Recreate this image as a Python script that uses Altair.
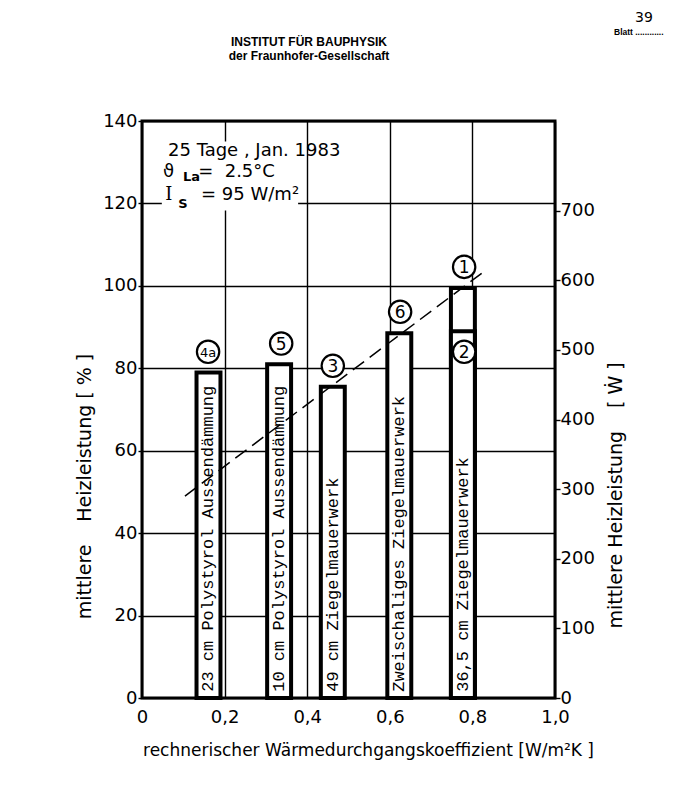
import altair as alt
import pandas as pd

# ---------------- data ----------------
bar_ids = ["4a", "5", "3", "6", "1", "2"]
bar_x_left = [0.132, 0.303, 0.433, 0.594, 0.748, 0.748]
bar_x_right = [0.190, 0.361, 0.491, 0.652, 0.806, 0.806]
bar_pct = [79.0, 81.0, 75.5, 88.5, 99.5, 89.0]
bar_labels = [
    "23 cm Polystyrol Aussendämmung",
    "10 cm Polystyrol Aussendämmung",
    "49 cm Ziegelmauerwerk",
    "Zweischaliges Ziegelmauerwerk",
    "36,5 cm Ziegelmauerwerk",
    "",
]

marker_ids = ["4a", "5", "3", "6", "1", "2"]
marker_x = [0.160, 0.337, 0.462, 0.625, 0.780, 0.780]
marker_y = [84.0, 86.0, 80.6, 93.7, 104.6, 84.0]

trend_x = [0.104, 0.835]
trend_y = [49.0, 104.0]

x_ticks = [0, 0.2, 0.4, 0.6, 0.8, 1.0]
y_ticks = [0, 20, 40, 60, 80, 100, 120, 140]
w_ticks = [0, 100, 200, 300, 400, 500, 600, 700]

annot_main_text = ["25 Tage , Jan. 1983", "ϑ", "=\u00a0 2.5°C", "= 95 W/m²"]
annot_main_x = [0.063, 0.051, 0.136, 0.143]
annot_main_y = [132.8, 127.7, 127.7, 122.1]
annot_serif_text = ["I"]
annot_serif_x = [0.056]
annot_serif_y = [122.1]
annot_sub_text = ["La", "S"]
annot_sub_x = [0.099, 0.088]
annot_sub_y = [126.3, 119.9]
annot_box_x = [0.048, 0.378]
annot_box_y = [118.3, 135.0]

header_lines = ["INSTITUT FÜR BAUPHYSIK", "der Fraunhofer-Gesellschaft"]
page_no = "39"
page_field = "Blatt ............"

# ---------------- frames ----------------
bars = pd.DataFrame({"id": bar_ids, "x1": bar_x_left, "x2": bar_x_right,
                     "pct": bar_pct, "label": bar_labels})
markers = pd.DataFrame({"id": marker_ids, "x": marker_x, "y": marker_y})
trend = pd.DataFrame({"x": trend_x, "y": trend_y})
annot_main = pd.DataFrame({"t": annot_main_text, "x": annot_main_x, "y": annot_main_y})
annot_serif = pd.DataFrame({"t": annot_serif_text, "x": annot_serif_x, "y": annot_serif_y})
annot_sub = pd.DataFrame({"t": annot_sub_text, "x": annot_sub_x, "y": annot_sub_y})
annot_box = pd.DataFrame({"x1": [annot_box_x[0]], "x2": [annot_box_x[1]],
                          "y1": [annot_box_y[0]], "y2": [annot_box_y[1]]})

SANS = "DejaVu Sans"
MONO = "Liberation Mono"

xs = alt.Scale(domain=[0, 1], nice=False, zero=False)
ys = alt.Scale(domain=[0, 140], nice=False)

x_axis = alt.Axis(
    values=x_ticks,
    labelExpr="datum.value == 0 ? '0' : replace(format(datum.value, '.1f'), '.', ',')",
    grid=True, gridColor="black", gridWidth=1.4, gridOpacity=1,
    domain=False, ticks=False, labelPadding=10, labelFlush=False,
    labelFont=SANS, labelFontSize=18, labelColor="black",
    title="rechnerischer Wärmedurchgangskoeffizient [W/m²K ]",
    titleFont=SANS, titleFontSize=17, titleFontWeight="normal", titleColor="black",
    titleX=226, titleY=52, titleAlign="center", titleBaseline="middle",
)
y_axis = alt.Axis(
    values=y_ticks, orient="left",
    grid=True, gridColor="black", gridWidth=1.4, gridOpacity=1,
    domain=False, ticks=True, tickSize=4, tickColor="black", tickWidth=1.4,
    labelPadding=1, labelFlush=False, labelFont=SANS, labelFontSize=18, labelColor="black",
    title="mittlere\u2003\u2009Heizleistung [ % ]",
    titleFont=SANS, titleFontSize=19, titleFontWeight="normal", titleColor="black",
    titleAngle=270, titleX=-58, titleY=365, titleAlign="center", titleBaseline="middle",
)


def X(field):
    return alt.X(field, scale=xs, axis=x_axis)


def Y(field):
    return alt.Y(field, scale=ys, axis=y_axis)


box_layer = alt.Chart(annot_box).mark_rect(fill="white", strokeWidth=0).encode(
    x=X("x1:Q"), x2="x2:Q", y=Y("y1:Q"), y2="y2:Q",
)

bar_layer = alt.Chart(bars).mark_rect(fill="white", stroke="black", strokeWidth=4).encode(
    x=X("x1:Q"),
    x2="x2:Q",
    y=Y("pct:Q"),
    y2=alt.datum(0),
)

bar_text = alt.Chart(bars).transform_calculate(
    xc="(datum.x1 + datum.x2) / 2", y0="1.5"
).mark_text(font=MONO, fontSize=17, angle=270, align="left", baseline="middle",
            color="black").encode(
    x=X("xc:Q"),
    y=Y("y0:Q"),
    text="label:N",
)

trend_layer = alt.Chart(trend).mark_line(color="black", strokeWidth=1.5,
                                         strokeDash=[14, 7]).encode(
    x=X("x:Q"),
    y=Y("y:Q"),
)

circle_layer = alt.Chart(markers).mark_point(shape="circle", filled=True, fill="white",
                                             stroke="black", strokeWidth=2.2, size=500,
                                             opacity=1).encode(
    x=X("x:Q"),
    y=Y("y:Q"),
)
circle_text = alt.Chart(markers).transform_calculate(
    fs="datum.id == '4a' ? 13 : 17"
).mark_text(font=SANS, baseline="middle", align="center", color="black", dy=1).encode(
    x=X("x:Q"),
    y=Y("y:Q"),
    text="id:N",
    size=alt.Size("fs:Q", scale=None, legend=None),
)

annot_main_layer = alt.Chart(annot_main).mark_text(
    font=SANS, fontSize=18, align="left", baseline="middle", color="black"
).encode(x=X("x:Q"), y=Y("y:Q"), text="t:N")
annot_serif_layer = alt.Chart(annot_serif).mark_text(
    font="DejaVu Serif", fontSize=18, align="left", baseline="middle", color="black"
).encode(x=X("x:Q"), y=Y("y:Q"), text="t:N")
annot_sub_layer = alt.Chart(annot_sub).mark_text(
    font=SANS, fontSize=13, fontWeight="bold", align="left", baseline="middle", color="black"
).encode(x=X("x:Q"), y=Y("y:Q"), text="t:N")

header1 = alt.Chart(pd.DataFrame({"t": [header_lines[0]]})).mark_text(
    font="Liberation Sans", fontSize=12, fontWeight="bold", align="center",
    baseline="middle", color="black"
).encode(x=alt.value(167), y=alt.value(-79), text="t:N")
header2 = alt.Chart(pd.DataFrame({"t": [header_lines[1]]})).mark_text(
    font="Liberation Sans", fontSize=12, fontWeight="bold", align="center",
    baseline="middle", color="black"
).encode(x=alt.value(167), y=alt.value(-65), text="t:N")

page_no_layer = alt.Chart(pd.DataFrame({"t": [page_no]})).mark_text(
    font=SANS, fontSize=14, align="center", baseline="middle", color="black"
).encode(x=alt.value(502), y=alt.value(-103), text="t:N")
page_field_layer = alt.Chart(pd.DataFrame({"t": [page_field]})).mark_text(
    font="Liberation Sans", fontSize=8.5, fontWeight="bold", align="left",
    baseline="middle", color="black"
).encode(x=alt.value(472), y=alt.value(-89), text="t:N")

left = alt.layer(box_layer, bar_layer, bar_text, trend_layer, circle_layer, circle_text,
                 annot_main_layer, annot_serif_layer, annot_sub_layer,
                 header1, header2, page_no_layer, page_field_layer)

right = alt.Chart(pd.DataFrame({"w": w_ticks})).mark_point(opacity=0).encode(
    y=alt.Y("w:Q", scale=alt.Scale(domain=[0, 829], nice=False),
            axis=alt.Axis(
                values=w_ticks, orient="right", grid=False, domain=False,
                ticks=True, tickSize=5, tickColor="black", tickWidth=1.4,
                labelPadding=0, labelFlush=False, labelFont=SANS, labelFontSize=18,
                labelColor="black",
                title="mittlere Heizleistung\u2003\u2009[ Ẇ ]",
                titleFont=SANS, titleFontSize=19, titleFontWeight="normal",
                titleColor="black", titleAngle=270, titleX=60, titleY=374,
                titleAlign="center", titleBaseline="middle",
            )),
)

chart = alt.layer(left, right).resolve_scale(y="independent").properties(
    width=413, height=577,
    background="white",
    autosize=alt.AutoSizeParams(type="none"),
    padding={"left": 134, "top": 113, "right": 123, "bottom": 87},
).configure_view(stroke="black", strokeWidth=3)

chart.save("out.html", embed_options={"renderer": "svg", "actions": False})
